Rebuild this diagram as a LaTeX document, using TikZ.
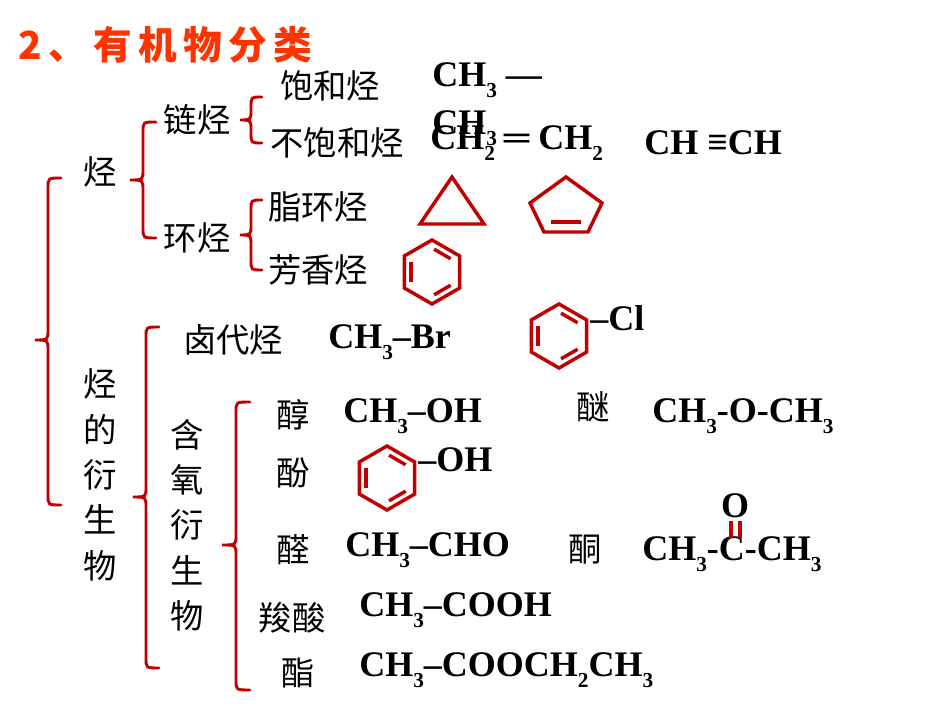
\documentclass[tikz,border=0pt]{standalone}
\usepackage{fontspec}
\setmainfont{Liberation Serif}
\newfontfamily\cjk{Noto Sans CJK SC}
\newcommand{\chsub}[1]{\raisebox{-0.3em}{\fontsize{16}{16}\selectfont #1}}
\definecolor{br}{HTML}{C00000}
\definecolor{ttl}{HTML}{FF3300}
\usetikzlibrary{calc}
\tikzset{
 cn/.style={font=\cjk\fontsize{25}{28}\selectfont, inner sep=0pt, anchor=center},
 fm/.style={font=\bfseries\fontsize{27}{28}\selectfont, inner sep=0pt, anchor=center},
 vt/.style={font=\cjk\fontsize{25}{34}\selectfont, inner sep=0pt, align=center, anchor=center},
 brc/.style={draw=br, line width=2.2pt, line cap=round},
 ring/.style={draw=br, line width=2.6pt, line join=miter},
 pics/benz/.style={code={
   \draw[ring] (90:32) -- (30:32) -- (-30:32) -- (-90:32) -- (-150:32) -- (150:32) -- cycle;
   \draw[ring] ($(150:24)!0.1!(-150:24)$) -- ($(150:24)!0.9!(-150:24)$);
   \draw[ring] ($(90:24)!0.1!(30:24)$) -- ($(90:24)!0.9!(30:24)$);
   \draw[ring] ($(-30:24)!0.1!(-90:24)$) -- ($(-30:24)!0.9!(-90:24)$);
 }}
}
\newcommand{\cbr}[5]{% x, top, tip, bottom, width
 \draw[brc] (#1+#5,#2) .. controls (#1+0.5*#5,#2) .. (#1+0.5*#5,#2+10) -- (#1+0.5*#5,#3-10) .. controls (#1+0.5*#5,#3) .. (#1,#3) .. controls (#1+0.5*#5,#3) .. (#1+0.5*#5,#3+10) -- (#1+0.5*#5,#4-10) .. controls (#1+0.5*#5,#4) .. (#1+#5,#4);}
\begin{document}
\begin{tikzpicture}[x=0.75pt,y=-0.75pt]
\useasboundingbox (0,0) rectangle (950,713);
\node[font=\cjk\bfseries\fontsize{29}{30}\selectfont, text=ttl, anchor=west, inner sep=0pt] (title) at (18,45) {2\,、\,有\,机\,物\,分\,类};
% braces
\cbr{35}{178}{340}{505}{26}
\cbr{130}{122}{180}{238}{26}
\cbr{240}{97}{120}{143}{22}
\cbr{240}{200}{235}{270}{22}
\cbr{133}{327}{497}{668}{26}
\cbr{222}{402}{545}{690}{28}
% hydrocarbons
\node[cn] (ting) at (100,172) {烃};
\node[cn] (lian) at (197,120) {链烃};
\node[cn] (huan) at (197,238) {环烃};
\node[cn] (bh) at (330,86) {饱和烃};
\node[cn] (bbh) at (337,143) {不饱和烃};
\node[cn] (zh) at (318,207) {脂环烃};
\node[cn] (fx) at (318,270) {芳香烃};
\node[fm, anchor=west] (f1) at (432,80) {CH\chsub{3} —};
\node[fm, anchor=west] (f1b) at (432,128) {CH\chsub{3}};
\node[fm, anchor=west] (f2) at (430,143) {CH\chsub{2} ═ CH\chsub{2}};
\node[fm, anchor=west] (f3) at (644,143) {CH ≡CH};
\draw[ring] (420,224) -- (452,177) -- (484,224) -- cycle;
\draw[ring] (566,177) -- (602,203) -- (588,232) -- (544,232) -- (530,203) -- cycle;
\draw[ring] (551,222) -- (581,222);
\pic at (432,272) {benz};
% derivatives
\node[vt] (der) at (100,475) {烃\\的\\衍\\生\\物};
\node[cn] (ld) at (233,340) {卤代烃};
\node[fm, anchor=west] (br1) at (328,342) {CH\chsub{3}–Br};
\pic at (559,336) {benz};
\node[fm, anchor=west] (cl) at (590,318) {–Cl};
\node[vt] (hy) at (187,525) {含\\氧\\衍\\生\\物};
\node[cn] (chun) at (293,415) {醇};
\node[fm, anchor=west] (f4) at (343,416) {CH\chsub{3}–OH};
\node[cn] (mi) at (593,407) {醚};
\node[fm, anchor=west] (f5) at (652,416) {CH\chsub{3}-O-CH\chsub{3}};
\node[cn] (fen) at (293,473) {酚};
\pic at (387,478) {benz};
\node[fm, anchor=west] (oh) at (418,460) {–OH};
\node[cn] (quan) at (293,550) {醛};
\node[fm, anchor=west] (f6) at (345,550) {CH\chsub{3}–CHO};
\node[cn] (tong) at (585,550) {酮};
\node[fm] (o) at (735,506) {O};
\node[fm, anchor=west] (f7) at (642,554) {CH\chsub{3}-C-CH\chsub{3}};
\draw[draw=br, line width=2.6pt] (731,521) -- (731,538) (740,521) -- (740,538);
\node[cn] (suo) at (292,618) {羧酸};
\node[fm, anchor=west] (f8) at (359,610) {CH\chsub{3}–COOH};
\node[cn] (zhi) at (298,673) {酯};
\node[fm, anchor=west] (f9) at (359,670) {CH\chsub{3}–COOCH\chsub{2}CH\chsub{3}};
\end{tikzpicture}
\end{document}
